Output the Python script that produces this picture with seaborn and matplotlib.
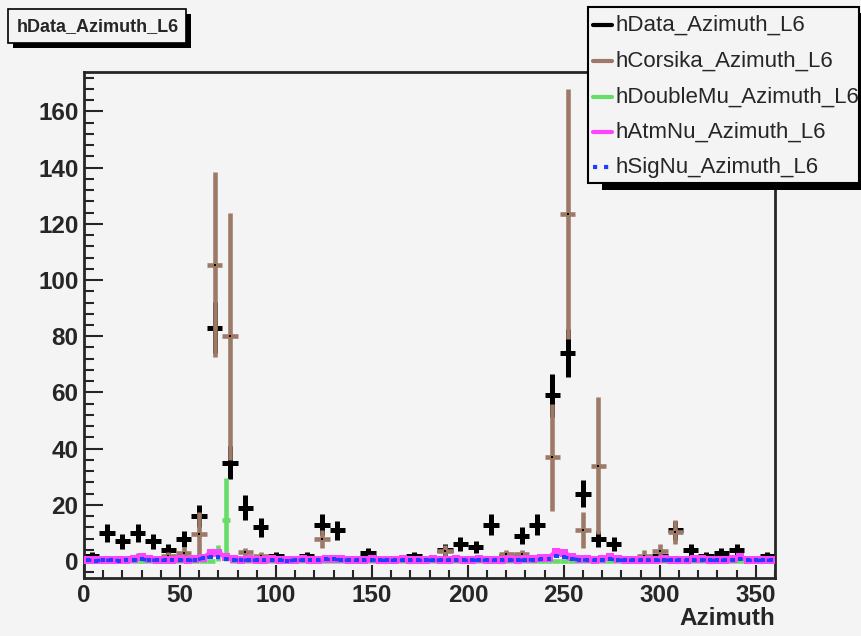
import numpy as np
import matplotlib.pyplot as plt
from matplotlib.lines import Line2D
from matplotlib.patches import Rectangle
from matplotlib.ticker import MultipleLocator
import seaborn as sns

# data and corsika: 45 bins of 8 deg
data_counts = [2, 10, 7, 10, 7, 4, 8, 16, 83, 35,
               19, 12, 2, 1, 2, 13, 11, 1, 3, 0,
               0, 2, 1, 4, 6, 5, 13, 2, 9, 13,
               59, 74, 24, 8, 6, 1, 1, 2, 11, 4,
               2, 3, 4, 0, 2]
corsika_vals = [0.5, 0.5, 1.0, 1.5, 0.5, 1.8, 3.0, 9.6, 105.5, 80.0,
                3.3, 1.8, 0.5, 0.5, 0.3, 7.8, 1.0, 0.5, 0.3, 0.3,
                0.5, 0.5, 0.3, 3.6, 1.0, 0.5, 0.5, 2.5, 2.5, 0.5,
                37.0, 123.5, 11.0, 34.0, 1.0, 0.5, 2.0, 3.7, 10.5, 0.5,
                0.3, 0.5, 0.3, 0.3, 0.5]
corsika_errs = [0.5, 0.5, 1.0, 1.5, 0.5, 1.5, 2.0, 8.0, 33.0, 44.0,
                1.5, 1.5, 0.5, 0.5, 0.3, 3.2, 1.0, 0.4, 0.3, 0.3,
                0.4, 0.4, 0.3, 2.0, 1.0, 0.5, 0.5, 1.5, 1.5, 0.5,
                19.0, 44.5, 6.5, 24.4, 1.0, 0.5, 2.0, 2.5, 4.3, 0.4,
                0.3, 0.4, 0.3, 0.3, 0.4]

# neutrino / double muon: 90 bins of 4 deg
doublemu_vals = [0] * 17 + [2.9, 14.8] + [0] * 71
atmnu_vals = [0.5, 0.4, 0.4, 0.5, 0.4, 0.5, 0.6, 1.3, 0.6, 0.5,
              0.5, 0.4, 0.6, 0.5, 0.7, 1.0, 3.0, 2.8, 1.5, 0.6,
              0.5, 0.6, 0.4, 0.5, 0.6, 0.5, 0.4, 0.5, 0.6, 0.5,
              0.5, 0.9, 0.9, 0.8, 0.5, 0.4, 0.5, 0.6, 0.5, 0.4,
              0.5, 0.6, 0.4, 0.5, 0.5, 0.6, 0.5, 0.4, 0.6, 0.5,
              0.5, 0.6, 0.5, 0.4, 0.5, 0.6, 0.5, 0.7, 0.8, 1.0,
              1.2, 3.3, 3.0, 1.5, 0.8, 0.6, 0.5, 0.6, 1.4, 0.6,
              0.5, 0.4, 0.5, 0.4, 0.5, 0.6, 0.5, 0.5, 0.4, 0.6,
              0.9, 0.5, 0.5, 0.4, 0.6, 1.4, 0.5, 0.4, 0.5, 0.4]
signu_vals = [0.3, 0.2, 0.3, 0.3, 0.2, 0.3, 0.4, 0.6, 0.4, 0.3,
              0.3, 0.3, 0.4, 0.3, 0.4, 1.0, 1.5, 1.3, 0.8, 0.4,
              0.3, 0.4, 0.3, 0.3, 0.4, 0.3, 0.2, 0.3, 0.4, 0.3,
              0.3, 0.6, 0.6, 0.5, 0.3, 0.3, 0.3, 0.4, 0.3, 0.3,
              0.3, 0.4, 0.3, 0.3, 0.3, 0.4, 0.3, 0.3, 0.4, 0.3,
              0.3, 0.4, 0.3, 0.3, 0.3, 0.4, 0.3, 0.4, 0.5, 0.6,
              0.8, 1.8, 1.5, 0.9, 0.5, 0.4, 0.3, 0.4, 0.7, 0.4,
              0.3, 0.3, 0.3, 0.3, 0.3, 0.4, 0.3, 0.3, 0.3, 0.4,
              0.5, 0.3, 0.3, 0.3, 0.4, 0.8, 0.3, 0.3, 0.3, 0.3]

series_names = ['hData_Azimuth_L6', 'hCorsika_Azimuth_L6', 'hDoubleMu_Azimuth_L6',
                'hAtmNu_Azimuth_L6', 'hSigNu_Azimuth_L6']
series_colors = ['black', '#9c7a67', '#66dd66', '#ff44ff', '#1f3fff']

bg = '#f4f4f4'
W, H = 862, 636

sns.set_style('ticks')
plt.rcParams['font.family'] = ['Liberation Sans', 'DejaVu Sans']

fig = plt.figure(figsize=(W / 100, H / 100), dpi=100, facecolor=bg)
ax = fig.add_axes([84 / W, 1 - 578 / H, (775 - 84) / W, (578 - 72) / H])
ax.set_facecolor(bg)

x8 = np.arange(4, 360, 8)
x4 = np.arange(2, 360, 4)

data = np.array(data_counts, dtype=float)
mask = data > 0
ax.errorbar(x8[mask], data[mask], xerr=4, yerr=np.sqrt(data[mask]), fmt='none',
            ecolor=series_colors[0], elinewidth=3.6, capsize=0, zorder=2)

ax.errorbar(x8, corsika_vals, xerr=4, yerr=corsika_errs, fmt='none',
            ecolor=series_colors[1], elinewidth=3.3, capsize=0, zorder=3)
sns.scatterplot(x=x8, y=corsika_vals, color='black', s=2, marker='s',
                linewidth=0, ax=ax, zorder=3.5)

ax.errorbar(x4, doublemu_vals, xerr=2, yerr=doublemu_vals, fmt='none',
            ecolor=series_colors[2], elinewidth=3.3, capsize=0, zorder=4)

sns.lineplot(x=x4, y=atmnu_vals, color=series_colors[3], lw=3.5, marker='s',
             markersize=5.5, markeredgewidth=0, ax=ax, zorder=5)
sns.lineplot(x=x4, y=signu_vals, color=series_colors[4], lw=2.5, ls=':',
             marker='s', markersize=3.5, markeredgewidth=0, ax=ax, zorder=6)

ax.set_xlim(0, 360)
ax.set_ylim(-6, 174)
ax.xaxis.set_major_locator(MultipleLocator(50))
ax.xaxis.set_minor_locator(MultipleLocator(10))
ax.yaxis.set_major_locator(MultipleLocator(20))
ax.yaxis.set_minor_locator(MultipleLocator(4))
ax.tick_params(which='both', direction='in', width=1.5, labelsize=17.5, pad=4)
ax.tick_params(axis='y', which='major', length=14)
ax.tick_params(axis='y', which='minor', length=7)
ax.tick_params(axis='x', which='major', length=9.5)
ax.tick_params(axis='x', which='minor', length=5.5)
for lab in ax.get_xticklabels() + ax.get_yticklabels():
    lab.set_fontweight('bold')
for sp in ax.spines.values():
    sp.set_linewidth(2)
    sp.set_visible(True)
ax.set_xlabel('Azimuth', loc='right', fontweight='bold', fontsize=17.5, labelpad=0)
ax.set_ylabel('')


def px_rect(x0, y0, x1, y1, **kw):
    return Rectangle((x0 / W, 1 - y1 / H), (x1 - x0) / W, (y1 - y0) / H,
                     transform=fig.transFigure, **kw)


# title box with shadow
fig.add_artist(px_rect(13, 14, 191, 48, fc='black', ec='none', zorder=8))
fig.add_artist(px_rect(8, 9, 186, 43, fc=bg, ec='black', lw=1.2, zorder=9))
fig.text(17 / W, 1 - 27 / H, 'hData_Azimuth_L6', fontsize=13, fontweight='bold',
         va='center', ha='left', zorder=10)

# legend box with shadow
fig.add_artist(px_rect(602, 13, 870, 190, fc='black', ec='none', zorder=8))
fig.add_artist(px_rect(588, 7, 859, 183, fc=bg, ec='black', lw=1.5, zorder=9))
row_y = [25, 61, 97, 132, 167]
for name, col, ry in zip(series_names, series_colors, row_y):
    yf = 1 - ry / H
    ls = ':' if 'SigNu' in name else '-'
    fig.add_artist(Line2D([593 / W, 612 / W], [yf, yf], transform=fig.transFigure,
                          color=col, lw=3, ls=ls, zorder=10))
    fig.text(616 / W, yf, name, fontsize=16, va='center', ha='left', zorder=10)

plt.savefig('out.png', dpi=100, facecolor=bg)
